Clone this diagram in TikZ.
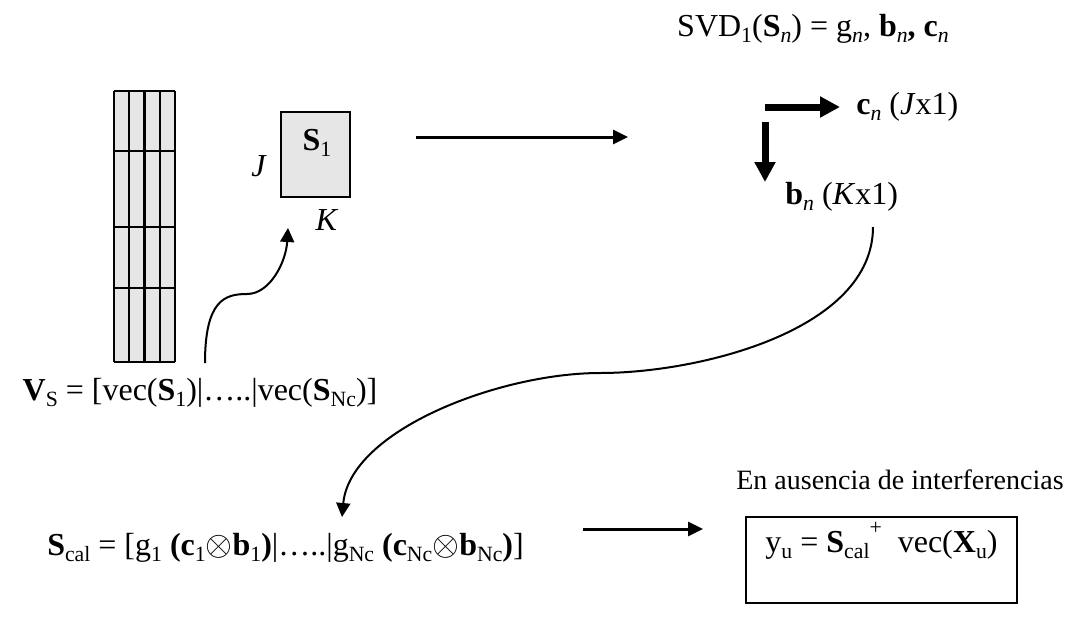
\documentclass[tikz,border=0pt]{standalone}
\usepackage{fontspec}
\setmainfont{Liberation Serif}
\usepackage{tikz}
\usetikzlibrary{positioning,arrows.meta}
\definecolor{CellGray}{HTML}{E6E6E6}
\newcommand{\lo}[1]{\raisebox{-0.4ex}{\scalebox{0.68}{#1}}}
\newcommand{\hi}[1]{\raisebox{1.2ex}{\scalebox{0.68}{#1}}}

\begin{document}
\begin{tikzpicture}[
  x=0.5pt, y=-0.5pt,
  txt/.style={inner sep=2pt,font=\fontsize{16}{19}\selectfont},
  small/.style={inner sep=2pt,font=\fontsize{14}{16}\selectfont},
  cellbox/.style={draw,fill=CellGray,line width=1.2pt,minimum width=34.5pt,minimum height=42.5pt,inner sep=0pt},
  resbox/.style={draw,line width=1pt,minimum width=135.5pt,minimum height=43pt,inner sep=0pt},
  flow/.style={-{Triangle[length=7.5pt,width=7pt]},line width=1.5pt},
  heavy/.style={-{Triangle[length=10pt,width=10pt]},line width=3.5pt},
  curvearrow/.style={-{Triangle[length=7pt,width=7pt]},line width=1pt}
]
\useasboundingbox (0,0) rectangle (1078,617);
\fill[CellGray] (114,91) rectangle (175,362);
\foreach \cx in {114,129.25,144.5,159.75,175} \draw[line width=1.2pt] (\cx,91) -- (\cx,362);
\foreach \ry in {91,151,227,288,362} \draw[line width=1.2pt] (114,\ry) -- (175,\ry);
\node[cellbox] (s1) at (315.5,154.5) {};
\node[txt] (s1lab) at (317,143) {\textbf{S}\lo{1}};
\node[txt] (jlab) at (259,166) {\textit{J}};
\node[txt] (klab) at (327,220) {\textit{K}};
\node[txt] (vs) at (200,393) {\textbf{V}\lo{S} = [vec(\textbf{S}\lo{1})|…..|vec(\textbf{S}\lo{Nc})]};
\node[txt] (svd) at (813,29) {SVD\lo{1}(\textbf{S}\lo{\textit{n}}) = g\lo{\textit{n}}, \textbf{b}\lo{\textit{n}}\textbf{,} \textbf{c}\lo{\textit{n}}};
\node[txt,anchor=west] (cn) at (852,107) {\textbf{c}\lo{\textit{n}} (\textit{J}x1)};
\node[txt,anchor=west] (bn) at (781,197) {\textbf{b}\lo{\textit{n}} (\textit{K}x1)};
\node[txt] (scal) at (285.5,548) {\textbf{S}\lo{cal} = [g\lo{1} \textbf{(c}\lo{1}$\otimes$\textbf{b}\lo{1}\textbf{)}|…..|g\lo{Nc} \textbf{(c}\lo{Nc}$\otimes$\textbf{b}\lo{Nc}\textbf{)}]};
\node[small] (note) at (900,480) {En ausencia de interferencias};
\node[resbox] (res) at (881.5,560) {};
\node[txt,below=1pt of res.north] (eq) {y\lo{u} = \textbf{S}\lo{cal}\hi{+}\ \ vec(\textbf{X}\lo{u})};
\coordinate (vsup) at (205,363);
\coordinate (kend) at (288,228);
\coordinate (go) at (416,137);
\coordinate (gotip) at (628,137);
\coordinate (corner) at (765,107);
\coordinate (down) at (765,122);
\coordinate (downtip) at (765,182);
\coordinate (bnfoot) at (873,227);
\coordinate (mid) at (600,373);
\coordinate (scaltop) at (342,517);
\coordinate (out) at (583,529);
\coordinate (outtip) at (703,529);
\draw[curvearrow] (vsup) .. controls (205,300) and (225,294) .. (247,294) .. controls (270,294) and (286,262) .. (kend);
\draw[flow] (go) -- (gotip);
\draw[heavy,shorten >=6pt] (corner) -- (cn.west);
\draw[heavy] (down) -- (downtip);
\draw[curvearrow] (bnfoot) .. controls (873,330) and (700,373) .. (mid) .. controls (500,373) and (350,430) .. (scaltop);
\draw[flow] (out) -- (outtip);
\end{tikzpicture}
\end{document}
